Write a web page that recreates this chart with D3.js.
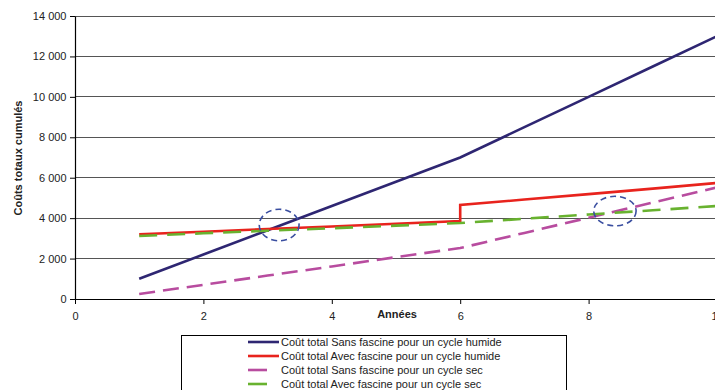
<!DOCTYPE html>
<html>
<head>
<meta charset="utf-8">
<script src="https://cdn.jsdelivr.net/npm/d3@7"></script>
<style>
  body { margin: 0; background: #fff; }
  svg { display: block; font-family: "Liberation Sans", Arial, sans-serif; }
</style>
</head>
<body>
<div id="chart"></div>
<script>
var width = 715,
    height = 390;

// data
var years = [1, 2, 3, 4, 5, 6, 7, 8, 9, 10];
var sansHumide = [1000, 2200, 3400, 4600, 5800, 7000, 8500, 10000, 11500, 13000];
var avecHumideYears = [1, 2, 3, 4, 5, 6, 6, 7, 8, 9, 10];
var avecHumide = [3200, 3330, 3460, 3590, 3720, 3860, 4650, 4920, 5190, 5460, 5740];
var sansSec = [250, 700, 1160, 1610, 2070, 2520, 3270, 4020, 4770, 5520];
var avecSec = [3120, 3250, 3380, 3500, 3630, 3760, 3970, 4180, 4390, 4600];

var xTicks = [0, 2, 4, 6, 8, 10];
var yTicks = [0, 2000, 4000, 6000, 8000, 10000, 12000, 14000];

var series = [
  { name: "Coût total Sans fascine pour un cycle humide", x: years, y: sansHumide, color: "#2e2672", dash: null },
  { name: "Coût total Avec fascine pour un cycle humide", x: avecHumideYears, y: avecHumide, color: "#e8231d", dash: null },
  { name: "Coût total Sans fascine pour un cycle sec", x: years, y: sansSec, color: "#b84c9f", dash: "16,8" },
  { name: "Coût total Avec fascine pour un cycle sec", x: years, y: avecSec, color: "#68b22f", dash: "18,10" }
];

// annotation ellipses (data coords)
var circles = [
  { x: 3.18, y: 3660, rx: 0.31, ry: 780 },
  { x: 8.41, y: 4350, rx: 0.33, ry: 730 }
];

var svg = d3.select("#chart")
  .append("svg")
  .attr("width", width)
  .attr("height", height);

var x = d3.scaleLinear().domain([0, 10]).range([75, 717]);
var y = d3.scaleLinear().domain([0, 14000]).range([299, 16]);

var fmt = function(d) { return d3.format(",")(d).replace(",", "\u00a0"); };

// gridlines
svg.append("g")
  .selectAll("line")
  .data(yTicks.filter(function(d) { return d > 0; }))
  .enter().append("line")
    .attr("x1", x(0)).attr("x2", width)
    .attr("y1", function(d) { return y(d); })
    .attr("y2", function(d) { return y(d); })
    .attr("stroke", "#555")
    .attr("stroke-width", 1)
    .attr("shape-rendering", "crispEdges");

// y axis
var yAxis = svg.append("g")
  .attr("transform", "translate(" + x(0) + ",0)")
  .call(d3.axisLeft(y).tickValues(yTicks).tickSize(5).tickSizeOuter(0).tickFormat(fmt));
yAxis.select(".domain").attr("stroke", "#000").attr("stroke-width", 1.2);
yAxis.selectAll(".tick line").attr("stroke", "#000");
yAxis.selectAll("text").attr("font-size", 11).attr("fill", "#222").attr("x", -8.5);

// x axis
var xAxis = svg.append("g")
  .attr("transform", "translate(0," + y(0) + ")")
  .call(d3.axisBottom(x).tickValues(xTicks).tickSize(5).tickSizeOuter(0));
xAxis.select(".domain").attr("stroke", "#000").attr("stroke-width", 1.2);
xAxis.selectAll(".tick line").attr("stroke", "#000");
xAxis.selectAll("text").attr("font-size", 11).attr("fill", "#222").attr("y", 13);

// axis titles
svg.append("text")
  .attr("x", 397).attr("y", 318)
  .attr("text-anchor", "middle")
  .attr("font-size", 11).attr("font-weight", "bold")
  .attr("fill", "#222")
  .text("Années");

svg.append("text")
  .attr("transform", "translate(21.5,158) rotate(-90)")
  .attr("text-anchor", "middle")
  .attr("font-size", 11).attr("font-weight", "bold")
  .attr("fill", "#222")
  .text("Coûts totaux cumulés");

// lines
var line = d3.line()
  .x(function(d) { return x(d[0]); })
  .y(function(d) { return y(d[1]); });

svg.append("g")
  .selectAll("path")
  .data(series)
  .enter().append("path")
    .attr("d", function(s) { return line(d3.zip(s.x, s.y)); })
    .attr("fill", "none")
    .attr("stroke", function(s) { return s.color; })
    .attr("stroke-width", 2.6)
    .attr("stroke-dasharray", function(s) { return s.dash; });

// dashed ellipses
svg.append("g")
  .selectAll("ellipse")
  .data(circles)
  .enter().append("ellipse")
    .attr("cx", function(d) { return x(d.x); })
    .attr("cy", function(d) { return y(d.y); })
    .attr("rx", function(d) { return x(d.rx) - x(0); })
    .attr("ry", function(d) { return y(0) - y(d.ry); })
    .attr("fill", "none")
    .attr("stroke", "#3a4ea0")
    .attr("stroke-width", 1.6)
    .attr("stroke-dasharray", "6,4");

// legend
var legend = svg.append("g");
legend.append("rect")
  .attr("x", 181.5).attr("y", 335.5)
  .attr("width", 385).attr("height", 70)
  .attr("fill", "#fff")
  .attr("stroke", "#000")
  .attr("stroke-width", 1);

var item = legend.selectAll(".item")
  .data(series)
  .enter().append("g")
    .attr("class", "item")
    .attr("transform", function(d, i) { return "translate(0," + (342 + i * 14) + ")"; });

item.append("line")
  .attr("x1", 248)
  .attr("x2", function(d) { return d.dash ? 267 : 279; })
  .attr("y1", 0).attr("y2", 0)
  .attr("stroke", function(d) { return d.color; })
  .attr("stroke-width", 2.6);

item.append("text")
  .attr("x", 281).attr("y", 4)
  .attr("font-size", 11)
  .attr("fill", "#222")
  .text(function(d) { return d.name; });
</script>
</body>
</html>
